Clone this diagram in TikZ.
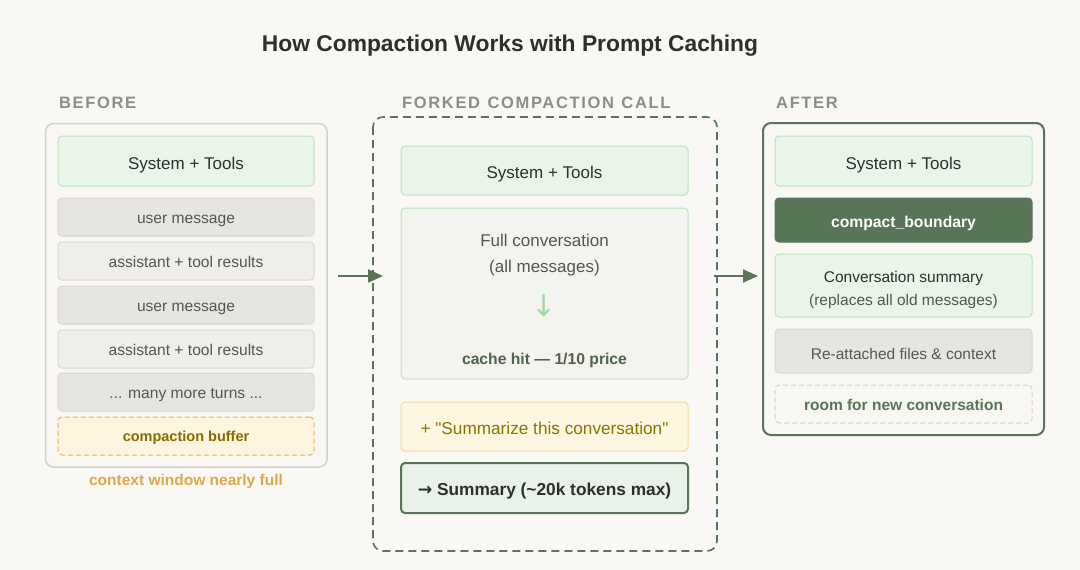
\documentclass[tikz,border=0pt]{standalone}
\usepackage{fontspec}
\setmainfont[Ligatures=TeXOff]{Liberation Sans}
\newfontfamily\arrowfont{DejaVu Sans}
\newfontfamily\spacedfont[LetterSpace=10,WordSpace=1.2]{Liberation Sans}
\usetikzlibrary{arrows.meta}
\definecolor{bg}{HTML}{F9F8F4}
\definecolor{boxfill}{HTML}{F8F7F3}
\definecolor{boxborder}{HTML}{D3D0CA}
\definecolor{greenfill}{HTML}{E9F5E8}
\definecolor{greenborder}{HTML}{BDE2BC}
\definecolor{userfill}{HTML}{E7E5E0}
\definecolor{asstfill}{HTML}{EFEEEA}
\definecolor{msgborder}{HTML}{DAD7D1}
\definecolor{buffill}{HTML}{FDF5DF}
\definecolor{bufborder}{HTML}{E2B55A}
\definecolor{buftext}{HTML}{8B6B00}
\definecolor{orangetext}{HTML}{E0A84A}
\definecolor{darkgreen}{HTML}{587558}
\definecolor{convfill}{HTML}{F3F3EF}
\definecolor{sumfill}{HTML}{FDF7E2}
\definecolor{sumborder}{HTML}{F0DC98}
\definecolor{sumtext}{HTML}{8D7300}
\definecolor{resfill}{HTML}{E9F2E8}
\definecolor{labelgray}{HTML}{8C8C8C}
\definecolor{txtdark}{HTML}{2E2E2E}
\definecolor{txtgray}{HTML}{555555}
\definecolor{cachetext}{HTML}{4E634E}
\definecolor{lightarrow}{HTML}{A6D8A4}
\definecolor{roomborder}{HTML}{D5D2CC}
\tikzset{
  x=1pt, y=-1pt,
  blk/.style={rectangle, rounded corners=4pt, inner sep=0pt, align=center, line width=1pt, text height=13.5pt, text depth=1.5pt},
  greenblk/.style={blk, fill=greenfill, draw=greenborder, text=txtdark, font=\fontsize{17}{20}\selectfont, text height=17.5pt},
  userblk/.style={blk, fill=userfill, draw=msgborder, text=txtgray, font=\fontsize{15.6}{18}\selectfont},
  asstblk/.style={blk, fill=asstfill, draw=msgborder, text=txtgray, font=\fontsize{15.6}{18}\selectfont},
  collabel/.style={anchor=base west, text=labelgray, font=\spacedfont\bfseries\fontsize{16.5}{19}\selectfont, inner sep=0pt},
  plaintext/.style={anchor=base, inner sep=0pt},
  flow/.style={draw=darkgreen, line width=2pt, -{Triangle[length=15pt,width=13pt]}},
}
\begin{document}
\begin{tikzpicture}
\fill[bg] (0,0) rectangle (1080,570);
\useasboundingbox (0,0) rectangle (1080,570);

% Title
\node[plaintext, text=txtdark, font=\bfseries\fontsize{22.8}{27}\selectfont] (title) at (510,51.5) {How Compaction Works with Prompt Caching};

% Column labels
\node[collabel] (lbefore) at (59,108) {BEFORE};
\node[collabel] (lfork) at (402,108) {FORKED COMPACTION CALL};
\node[collabel] (lafter) at (776,108) {AFTER};

% BEFORE column
\draw[rounded corners=8pt, fill=boxfill, draw=boxborder, line width=1.5pt] (45.5,123.5) rectangle (327,467);
\node[blk, minimum width=281pt, minimum height=343pt] (before) at (186.25,295.25) {};
\node[greenblk, minimum width=256pt, minimum height=50pt] (bsys) at (186,161) {System + Tools};
\node[userblk, minimum width=256pt, minimum height=38pt] (bu1) at (186,217) {user message};
\node[asstblk, minimum width=256pt, minimum height=38pt] (ba1) at (186,261) {assistant + tool results};
\node[userblk, minimum width=256pt, minimum height=38pt] (bu2) at (186,305) {user message};
\node[asstblk, minimum width=256pt, minimum height=38pt] (ba2) at (186,349) {assistant + tool results};
\node[userblk, minimum width=256pt, minimum height=38pt] (bmore) at (186,392) {... many more turns ...};
\node[blk, fill=buffill, draw=bufborder, dash pattern=on 5pt off 3pt, text=buftext, font=\bfseries\fontsize{14.5}{17}\selectfont, text height=13pt, minimum width=256pt, minimum height=38pt] (bbuf) at (186,436) {compaction buffer};
\node[plaintext, text=orangetext, font=\bfseries\fontsize{15.5}{18}\selectfont] (bnote) at (186,485) {context window nearly full};

% FORKED column
\draw[rounded corners=10pt, draw=darkgreen, line width=1.6pt, dash pattern=on 8pt off 5pt] (373,117) rectangle (717,551);
\node[blk, minimum width=344pt, minimum height=434pt] (fork) at (545,334) {};
\node[greenblk, minimum width=287pt, minimum height=49pt] (fsys) at (544.5,170.5) {System + Tools};
\node[blk, fill=convfill, draw=greenborder, minimum width=287pt, minimum height=171pt] (fconv) at (544.5,293.5) {};
\node[plaintext, text=txtgray, font=\fontsize{17}{20}\selectfont] (fconvt1) at (544.5,246.5) {Full conversation};
\node[plaintext, text=txtgray, font=\fontsize{17}{20}\selectfont] (fconvt2) at (544.5,272) {(all messages)};
\node[text=lightarrow, font=\arrowfont\fontsize{30}{34}\selectfont, inner sep=0pt] (fdown) at (544.5,306) {↓};
\node[plaintext, text=cachetext, font=\bfseries\fontsize{15.7}{18}\selectfont] (fcache) at (544.5,364) {cache hit — 1/10 price};
\node[blk, fill=sumfill, draw=sumborder, text=sumtext, font=\fontsize{17.2}{20}\selectfont, text height=16.5pt, minimum width=287pt, minimum height=49pt] (fsumz) at (544.5,426.5) {+ "Summarize this conversation"};
\node[blk, fill=resfill, draw=darkgreen, line width=2pt, text=txtdark, font=\bfseries\fontsize{17.3}{20}\selectfont, text height=15.5pt, minimum width=287pt, minimum height=50pt] (fres) at (544.5,488) {{\arrowfont →} Summary (\textasciitilde 20k tokens max)};

% AFTER column
\draw[rounded corners=8pt, fill=boxfill, draw=darkgreen, line width=2pt] (763,123) rectangle (1044,435);
\node[blk, minimum width=281pt, minimum height=312pt] (after) at (903.5,279) {};
\node[greenblk, minimum width=257pt, minimum height=50pt] (asys) at (903.5,161) {System + Tools};
\node[blk, fill=darkgreen, draw=darkgreen, text=white, font=\bfseries\fontsize{15.7}{18}\selectfont, text height=16.5pt, minimum width=257pt, minimum height=44pt] (abound) at (903.5,220) {compact\_boundary};
\node[greenblk, minimum width=257pt, minimum height=63pt] (asum) at (903.5,285.5) {};
\node[plaintext, text=txtdark, font=\fontsize{15.5}{18}\selectfont] (asumt1) at (903.5,282.7) {Conversation summary};
\node[plaintext, text=txtgray, font=\fontsize{15.5}{18}\selectfont] (asumt2) at (903.5,305) {(replaces all old messages)};
\node[asstblk, fill=userfill, font=\fontsize{15.5}{18}\selectfont, text height=18pt, minimum width=257pt, minimum height=44pt] (areatt) at (903.5,351) {Re-attached files \& context};
\node[blk, draw=roomborder, dash pattern=on 5pt off 3pt, text=darkgreen, font=\bfseries\fontsize{15.5}{18}\selectfont, minimum width=257pt, minimum height=38pt] (aroom) at (903.5,404) {room for new conversation};

% Arrows
\coordinate (a1s) at (338,276);
\coordinate (a1e) at (383,276);
\coordinate (a2s) at (714,276);
\coordinate (a2e) at (758,276);
\draw[flow] (a1s) -- (a1e);
\draw[flow] (a2s) -- (a2e);
\end{tikzpicture}
\end{document}
